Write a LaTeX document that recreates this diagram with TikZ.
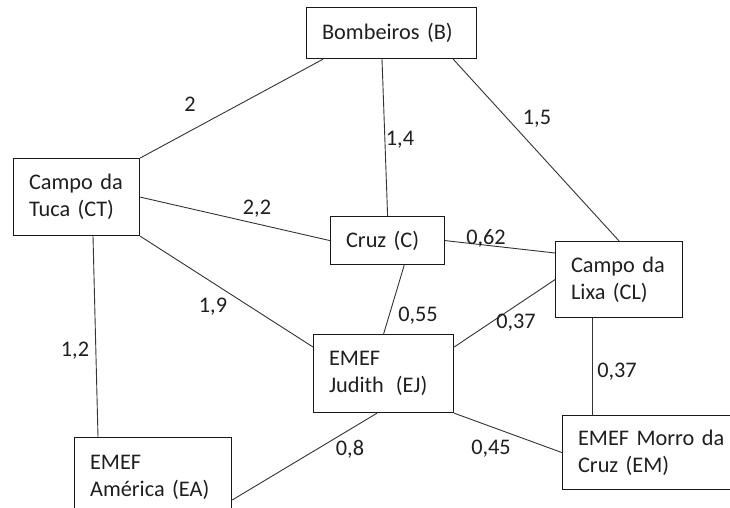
\documentclass[tikz,border=0pt]{standalone}
\usepackage{fontspec}
\setmainfont{Carlito}
\usetikzlibrary{calc}
\begin{document}
\begin{tikzpicture}[x=1pt,y=-1pt,
  box/.style={draw=black!90, line width=1.2pt, rectangle, inner ysep=0pt, inner xsep=15.5pt,
    anchor=north west, align=left, text=black!88, font=\fontsize{22.3}{27}\selectfont},
  lbl/.style={inner sep=0pt, text=black!88, font=\fontsize{22.3}{27}\selectfont},
  edge/.style={draw=black!80, line width=0.9pt}]
\useasboundingbox (0,0) rectangle (730,508);
\clip (0,0) rectangle (730,508);
\fill[white] (0,0) rectangle (730,508);
% boxes
\node[box, minimum width=170, minimum height=51, text width=139] (B) at (306,7) {Bombeiros (B)};
\node[box, minimum width=126, minimum height=77, text width=95] (CT) at (13,158) {Campo da\\Tuca (CT)};
\node[box, minimum width=114, minimum height=48, text width=83] (C) at (330,216) {Cruz (C)};
\node[box, minimum width=127, minimum height=76, text width=96] (CL) at (555,241) {Campo da\\Lixa (CL)};
\node[box, minimum width=140, minimum height=78, text width=109] (EJ) at (313,334) {EMEF\\Judith \hspace{0.2em}(EJ)};
\node[box, minimum width=157, minimum height=80, text width=126] (EA) at (74,437) {EMEF\\América (EA)};
\node[box, minimum width=180, minimum height=74, text width=149] (EM) at (562,415) {EMEF Morro da\\Cruz (EM)};
% connectors
\draw[edge] ($(B.south west)+(17,0)$) -- (CT.north east);
\draw[edge] ($(B.south west)+(76,0)$) -- (C.north);
\draw[edge] ($(B.south east)+(-24,0)$) -- (CL.north);
\draw[edge] (CT.east) -- (C.west);
\draw[edge] (CT.south east) -- ($(EJ.north west)+(0,13)$);
\draw[edge] ($(CT.south west)+(80,0)$) -- ($(EA.north west)+(24,0)$);
\draw[edge] (C.east) -- ($(CL.north west)+(0,12)$);
\draw[edge] ($(C.south east)+(-41,0)$) -- (EJ.north);
\draw[edge] (CL.west) -- ($(EJ.north east)+(0,13)$);
\draw[edge] ($(CL.south west)+(37,0)$) -- ($(EM.north west)+(30,0)$);
\draw[edge] (EJ.south east) -- (EM.west);
\draw[edge] ($(EJ.south west)+(64,0)$) -- ($(EA.north east)+(0,63)$);
% labels
\node[lbl] (l1) at (190,104) {2};
\node[lbl] (l2) at (400,140) {1,4};
\node[lbl] (l3) at (537,119) {1,5};
\node[lbl] (l4) at (257,209) {2,2};
\node[lbl] (l5) at (486,238) {0,62};
\node[lbl] (l6) at (213,307) {1,9};
\node[lbl] (l7) at (418,316) {0,55};
\node[lbl] (l8) at (516,323) {0,37};
\node[lbl] (l9) at (75,351) {1,2};
\node[lbl] (l10) at (617,372) {0,37};
\node[lbl] (l11) at (350,449) {0,8};
\node[lbl] (l12) at (491,449) {0,45};
\end{tikzpicture}
\end{document}
